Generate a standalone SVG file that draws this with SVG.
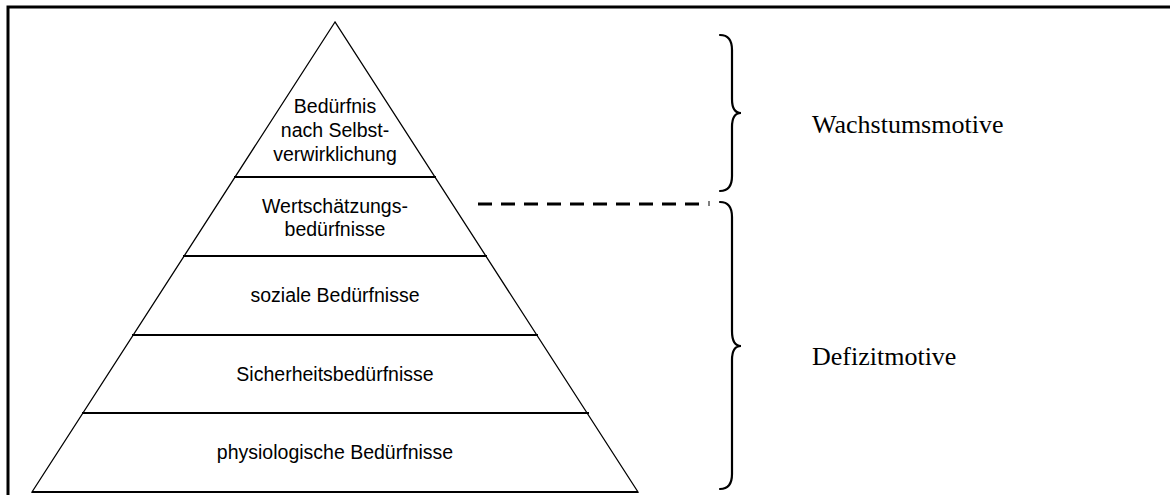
<svg xmlns="http://www.w3.org/2000/svg" width="1170" height="495" viewBox="0 0 1170 495">
<style>
.frame{stroke:#000;stroke-width:3;fill:none}
.pyr{stroke:#000;stroke-width:1.3;fill:none}
.lvl{stroke:#000;stroke-width:2;fill:none}
.brace{stroke:#000;stroke-width:2.2;fill:none;stroke-linecap:round}
.dash{stroke:#000;stroke-width:3;fill:none;stroke-dasharray:14 9}
.lab{font-family:"Liberation Sans",Arial,sans-serif;font-size:19.5px;fill:#000;text-anchor:middle}
.side{font-family:"Liberation Serif","Times New Roman",serif;font-size:26px;fill:#000}
</style>
<rect width="1170" height="495" fill="#fff"/>
<path class="frame" d="M8,495 L8,7 L1170,7"/>
<g id="pyramid">
<polygon class="pyr" points="335,22 32,492 638,492"/>
</g>
<g id="level5">
<line class="lvl" x1="234" y1="177" x2="436" y2="177"/>
<text class="lab" x="335" y="113">Bedürfnis</text>
<text class="lab" x="335" y="137">nach Selbst-</text>
<text class="lab" x="335" y="161">verwirklichung</text>
</g>
<g id="level4">
<line class="lvl" x1="183" y1="256" x2="487" y2="256"/>
<text class="lab" x="335" y="213">Wertschätzungs-</text>
<text class="lab" x="335" y="236">bedürfnisse</text>
</g>
<g id="level3">
<line class="lvl" x1="132" y1="335" x2="538" y2="335"/>
<text class="lab" x="335" y="302">soziale Bedürfnisse</text>
</g>
<g id="level2">
<line class="lvl" x1="82" y1="413" x2="589" y2="413"/>
<text class="lab" x="335" y="381">Sicherheitsbedürfnisse</text>
</g>
<g id="level1">
<line class="lvl" x1="32" y1="492" x2="638" y2="492"/>
<text class="lab" x="335" y="459">physiologische Bedürfnisse</text>
</g>
<g id="connectors">
<line class="dash" x1="478" y1="204" x2="702" y2="204"/>
<line stroke="#000" stroke-width="1" x1="709" y1="201" x2="709" y2="206"/>
</g>
<g id="wachstum">
<path class="brace" d="M720,35 C728,35 732,40 732,50 L732,99 C732,108 735,113 741,113 C735,113 732,118 732,127 L732,176 C732,186 728,191 720,191"/>
<text class="side" x="812" y="133">Wachstumsmotive</text>
</g>
<g id="defizit">
<path class="brace" d="M720,202 C728,202 732,207 732,217 L732,331 C732,340 735,346 741,346 C735,346 732,351 732,360 L732,474 C732,484 728,489 720,489"/>
<text class="side" x="812" y="365">Defizitmotive</text>
</g>
</svg>
